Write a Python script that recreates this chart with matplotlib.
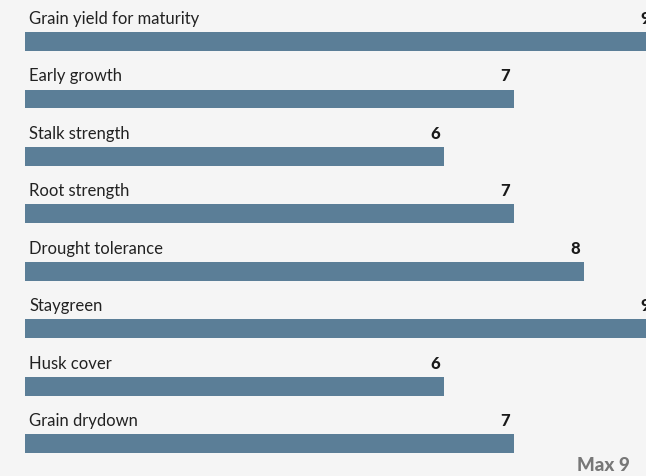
import matplotlib.pyplot as plt

traits = ["Grain yield for maturity", "Early growth", "Stalk strength", "Root strength",
          "Drought tolerance", "Staygreen", "Husk cover", "Grain drydown"]
scores = [9, 7, 6, 7, 8, 9, 6, 7]
max_score = 9

bg = "#f5f5f5"
bar_color = "#5b7e97"

fig = plt.figure(figsize=(6.46, 4.77), dpi=100, facecolor=bg)
ax = fig.add_axes([0, 0, 1, 1])
ax.set_facecolor(bg)

ypos = list(range(len(traits)))
ax.barh(ypos, scores, height=0.33, color=bar_color, left=0)

for y, name, val in zip(ypos, traits, scores):
    ax.text(0.06, y - 0.33, name, fontsize=12, family="Lato", color="#222222",
            va="baseline", ha="left")
    ax.annotate(str(val), (val, y - 0.33), xytext=(-3, 0), textcoords="offset points",
                fontsize=12, family="Lato", fontweight="black", color="#1a1a1a",
                va="baseline", ha="right", annotation_clip=False)

ax.text(0.975, 0.013, f"Max {max_score}", transform=ax.transAxes, fontsize=13.5,
        family="Lato", fontweight="black", color="#777777", ha="right", va="baseline")

ax.set_xlim(-0.358, 8.889)
ax.set_ylim(7.557, -0.739)
ax.axis("off")

fig.savefig("out.png", dpi=100, facecolor=bg)
